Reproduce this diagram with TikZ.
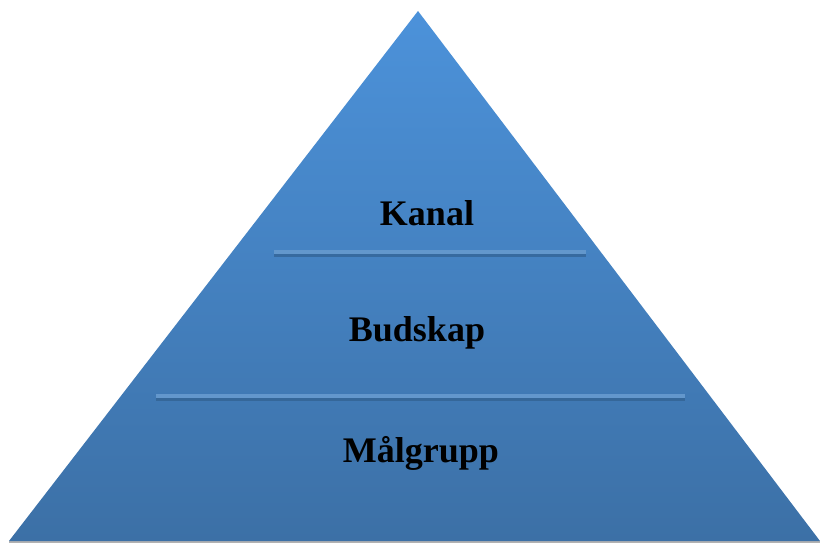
\documentclass[tikz,border=0pt]{standalone}
\usepackage{fontspec}
\setmainfont{Liberation Serif}
\begin{document}
\begin{tikzpicture}[x=1pt,y=-1pt,
  lbl/.style={font=\fontsize{36}{40}\selectfont\bfseries, text=black, inner sep=0pt},
  sep/.style={line width=4pt, draw=sepcol},
  sepshadow/.style={line width=4pt, draw=shadowcol, opacity=0.6}]
\definecolor{topcol}{HTML}{4C92DA}
\definecolor{botcol}{HTML}{3C70A6}
\definecolor{sepcol}{HTML}{6397CC}
\definecolor{shadowcol}{HTML}{2E5B88}
\useasboundingbox (0,0) rectangle (820,543);
\fill[gray!60] (9,541) -- (820,541) -- (820,543) -- (9,543) -- cycle;
\shade[top color=topcol, bottom color=botcol] (418,11) -- (820,541) -- (9,541) -- cycle;
\coordinate (l1a) at (274,252);
\coordinate (l1b) at (586,252);
\coordinate (l2a) at (156,396);
\coordinate (l2b) at (685,396);
\draw[sepshadow] ([yshift=-3pt]l1a) -- ([yshift=-3pt]l1b);
\draw[sep] (l1a) -- (l1b);
\draw[sepshadow] ([yshift=-3pt]l2a) -- ([yshift=-3pt]l2b);
\draw[sep] (l2a) -- (l2b);
\node[lbl] (kanal) at (427,213) {Kanal};
\node[lbl] (budskap) at (417,333) {Budskap};
\node[lbl] (malgrupp) at (421,453) {Målgrupp};
\end{tikzpicture}
\end{document}
